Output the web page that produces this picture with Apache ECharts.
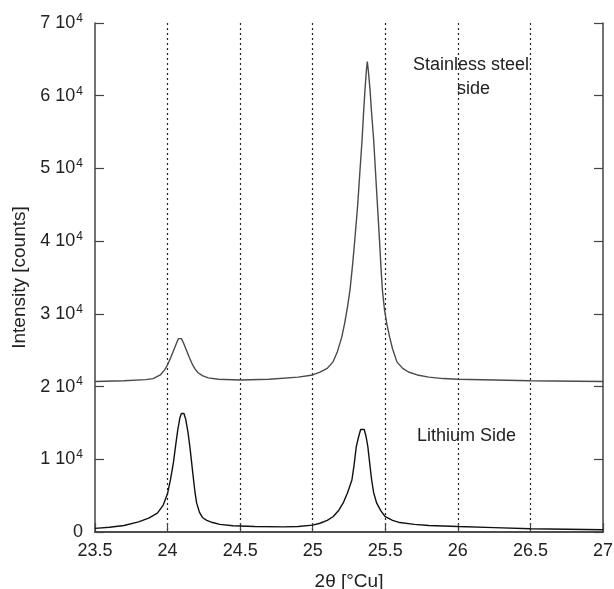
<!DOCTYPE html>
<html>
<head>
<meta charset="utf-8">
<script src="https://cdn.jsdelivr.net/npm/echarts@6/dist/echarts.min.js"></script>
<style>
  html, body { margin: 0; padding: 0; background: #fff; }
  #chart { width: 614px; height: 589px; }
</style>
</head>
<body>
<div id="chart"></div>
<script>
// stainless steel side trace (2theta, counts)
var steelX = [23.5, 23.7, 23.85, 23.9, 23.95, 23.98, 24.0, 24.02, 24.04, 24.06, 24.075, 24.085, 24.095, 24.11, 24.13, 24.15, 24.17, 24.19, 24.21, 24.24,
    24.28, 24.35, 24.5, 24.7, 24.9, 25.0, 25.05, 25.1, 25.14, 25.17, 25.2, 25.22, 25.24, 25.257, 25.275, 25.29, 25.31, 25.325, 25.34, 25.35,
    25.36, 25.37, 25.376, 25.383, 25.395, 25.405, 25.42, 25.44, 25.46, 25.47, 25.48, 25.495, 25.51, 25.53, 25.55, 25.58, 25.62, 25.66, 25.72, 25.8,
    25.9, 26.0, 26.5, 27.0];
var steelY = [20700, 20800, 20950, 21100, 21600, 22300, 23000, 23900, 24900, 25900, 26600, 26700, 26600, 26000, 25000, 24000, 23100, 22400, 21900, 21500,
    21200, 21000, 20900, 21000, 21300, 21600, 22000, 22500, 23400, 24800, 26800, 28700, 31000, 33300, 36800, 40200, 45000, 49500, 53900, 57500,
    60800, 63500, 64700, 63500, 60800, 57800, 53900, 47000, 40200, 36500, 33300, 30500, 28700, 26800, 25200, 23400, 22500, 22000, 21600, 21300,
    21100, 21000, 20800, 20700];

// lithium side trace
var lithX = [23.5, 23.6, 23.7, 23.8, 23.87, 23.93, 23.97, 24.0, 24.02, 24.04, 24.055, 24.07, 24.085, 24.095, 24.104, 24.113, 24.125, 24.14, 24.155, 24.166,
    24.18, 24.19, 24.2, 24.22, 24.24, 24.27, 24.31, 24.36, 24.45, 24.6, 24.8, 24.9, 25.0, 25.05, 25.1, 25.14, 25.18, 25.21, 25.24, 25.27,
    25.285, 25.3, 25.315, 25.33, 25.342, 25.355, 25.368, 25.38, 25.393, 25.406, 25.42, 25.44, 25.47, 25.5, 25.55, 25.6, 25.7, 25.8, 26.0, 26.25,
    26.5, 26.75, 27.0];
var lithY = [500, 650, 900, 1400, 1900, 2600, 3700, 5300, 7200, 9500, 11800, 14000, 15700, 16300, 16500, 16300, 15500, 13800, 11500, 9500,
    7000, 5300, 4000, 2700, 2000, 1600, 1300, 1050, 850, 750, 700, 750, 950, 1200, 1600, 2100, 3000, 4000, 5400, 7150,
    9200, 11700, 13000, 14100, 14350, 14100, 13100, 11700, 9400, 7150, 5400, 4000, 2900, 2100, 1600, 1300, 1050, 900, 750, 600,
    450, 380, 300];

var xTicks = [23.5, 24, 24.5, 25, 25.5, 26, 26.5, 27];
var yTicks = [0, 1, 2, 3, 4, 5, 6, 7];

var MyChart = function () {

    var font = "Liberation Sans, Arial, sans-serif";
    var axisColor = "#444";

    function pairs(xs, ys) {
        var out = [];
        for (var i = 0; i < xs.length; i++) {
            out.push([xs[i], ys[i]]);
        }
        return out;
    }

    function init() {
        var chart = echarts.init(document.getElementById("chart"), null, {renderer: "canvas"});
        var option = {
            animation: false,
            backgroundColor: "#fff",
            grid: {left: 95, right: 11, top: 23, bottom: 57, outerBoundsMode: "none"},
            xAxis: [
                {
                    type: "value", min: xTicks[0], max: xTicks[xTicks.length - 1], interval: 0.5,
                    name: "2θ [°Cu]", nameLocation: "middle", nameGap: 40,
                    nameTextStyle: {fontFamily: font, fontSize: 19, color: "#222"},
                    axisLine: {lineStyle: {color: axisColor, width: 1.5}},
                    axisTick: {inside: true, length: 9, lineStyle: {color: axisColor, width: 1.2}},
                    axisLabel: {fontFamily: font, fontSize: 18, color: "#222", margin: 10},
                    splitLine: {show: true, showMinLine: false, showMaxLine: false,
                        lineStyle: {color: "#222", type: [2, 3], width: 1.2}}
                },
                {
                    type: "value", position: "top", min: xTicks[0], max: xTicks[xTicks.length - 1], interval: 0.5,
                    axisLine: {show: true, lineStyle: {color: axisColor, width: 1.5}},
                    axisTick: {show: false},
                    axisLabel: {show: false},
                    splitLine: {show: false}
                }
            ],
            yAxis: [
                {
                    type: "value", min: 0, max: 70000, interval: 10000,
                    name: "Intensity [counts]", nameLocation: "middle", nameGap: 66,
                    nameTextStyle: {fontFamily: font, fontSize: 19, color: "#222"},
                    axisLine: {show: true, lineStyle: {color: axisColor, width: 1.5}},
                    axisTick: {show: true, inside: true, length: 9, lineStyle: {color: axisColor, width: 1.2}},
                    axisLabel: {
                        margin: 12,
                        formatter: function (v) {
                            var n = Math.round(v / 10000);
                            if (n === 0) return "{n|0}";
                            return "{n|" + n + " 10}{s|4}";
                        },
                        rich: {
                            n: {fontFamily: font, fontSize: 18, color: "#222"},
                            s: {fontFamily: font, fontSize: 12, color: "#222", padding: [0, 0, 9, 1]}
                        }
                    },
                    splitLine: {show: false}
                },
                {
                    type: "value", position: "right", min: 0, max: 70000, interval: 10000,
                    axisLine: {show: true, lineStyle: {color: axisColor, width: 1.5}},
                    axisTick: {show: true, inside: true, length: 9, lineStyle: {color: axisColor, width: 1.2}},
                    axisLabel: {show: false},
                    splitLine: {show: false}
                }
            ],
            series: [
                {
                    name: "Stainless steel side",
                    type: "line",
                    data: pairs(steelX, steelY),
                    showSymbol: false,
                    lineStyle: {color: "#4a4a4a", width: 1.4}
                },
                {
                    name: "Lithium Side",
                    type: "line",
                    data: pairs(lithX, lithY),
                    showSymbol: false,
                    lineStyle: {color: "#111", width: 1.4}
                }
            ],
            graphic: [
                {type: "text", left: 475 - 62, top: 56, style: {text: "Stainless steel", font: "18px " + font, fill: "#222"}},
                {type: "text", left: 475 - 18, top: 80, style: {text: "side", font: "18px " + font, fill: "#222"}},
                {type: "text", left: 417, top: 427, style: {text: "Lithium Side", font: "18px " + font, fill: "#222"}}
            ]
        };
        chart.setOption(option);
    }

    return {
        init: function () {
            init();
        }
    };
}();

MyChart.init();
</script>
</body>
</html>
